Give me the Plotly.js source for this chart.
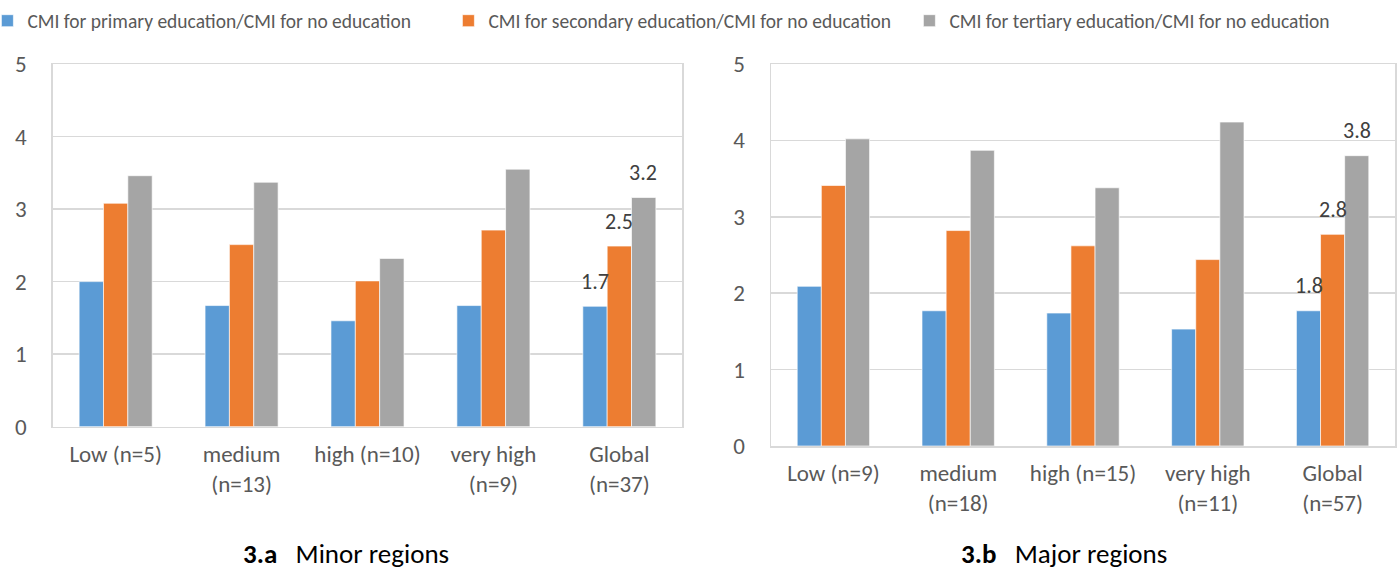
<!DOCTYPE html>
<html>
<head>
<meta charset="utf-8">
<script src="https://cdn.plot.ly/plotly-3.0.1.min.js"></script>
<style>html,body{margin:0;padding:0;background:#fff;}#chart{width:1400px;height:569px;}</style>
</head>
<body>
<div id="chart"></div>
<script>
// ---- data ----
const seriesNames = [
  "CMI for primary education/CMI for no education",
  "CMI for secondary education/CMI for no education",
  "CMI for tertiary education/CMI for no education"
];
const minorCategories = ["Low (n=5)", "medium<br>(n=13)", "high (n=10)", "very high<br>(n=9)", "Global<br>(n=37)"];
const minorPrimary   = [2.00, 1.67, 1.46, 1.67, 1.66];
const minorSecondary = [3.08, 2.51, 2.01, 2.71, 2.49];
const minorTertiary  = [3.46, 3.37, 2.32, 3.55, 3.16];

const majorCategories = ["Low (n=9)", "medium<br>(n=18)", "high (n=15)", "very high<br>(n=11)", "Global<br>(n=57)"];
const majorPrimary   = [2.09, 1.77, 1.74, 1.53, 1.77];
const majorSecondary = [3.41, 2.82, 2.62, 2.44, 2.77];
const majorTertiary  = [4.02, 3.87, 3.38, 4.24, 3.80];

const panelTitles = ["<b>3.a</b>\u00a0\u00a0\u00a0Minor regions", "<b>3.b</b>\u00a0\u00a0\u00a0Major regions"];
const labelledCategoryIndex = 4; // Global

// ---- style ----
const colors = ["#5B9BD5", "#ED7D31", "#A5A5A5"];
const FONT = "Carlito, Lato, 'Liberation Sans', sans-serif";
const W = 1400, H = 569, TOP = 45;
const py = p => (H - p) / (H - TOP);   // pixel row -> paper y

const panels = [
  {cats: minorCategories, vals: [minorPrimary, minorSecondary, minorTertiary], xa: "x", ya: "y"},
  {cats: majorCategories, vals: [majorPrimary, majorSecondary, majorTertiary], xa: "x2", ya: "y2"}
];

const traces = [];
const annotations = [];
panels.forEach((p, pi) => {
  p.vals.forEach((v, si) => {
    traces.push({
      type: "bar",
      name: seriesNames[si],
      x: p.cats, y: v,
      xaxis: p.xa, yaxis: p.ya,
      marker: {color: colors[si], line: {color: "rgba(255,255,255,0.8)", width: 0.8}},
      showlegend: pi === 0,
      legendgroup: "s" + si,
      hoverinfo: "x+y+name"
    });
    annotations.push({
      xref: p.xa, yref: p.ya,
      x: p.cats[labelledCategoryIndex], y: v[labelledCategoryIndex],
      text: v[labelledCategoryIndex].toFixed(1),
      showarrow: false, xanchor: "center", yanchor: "middle",
      xshift: (si - 1) * 24, yshift: 25,
      font: {family: FONT, size: 22, color: "#404040"}
    });
  });
});

annotations.push({xref: "paper", yref: "paper", x: 346/W, y: py(553), text: panelTitles[0],
  showarrow: false, xanchor: "center", yanchor: "middle", font: {family: FONT, size: 27, color: "#000"}});
annotations.push({xref: "paper", yref: "paper", x: 1064/W, y: py(553), text: panelTitles[1],
  showarrow: false, xanchor: "center", yanchor: "middle", font: {family: FONT, size: 27, color: "#000"}});

function xAxis(domain, anchor) {
  return {
    domain: domain, anchor: anchor, type: "category",
    showline: true, mirror: true, linecolor: "#D9D9D9", linewidth: 1.5,
    showgrid: false, zeroline: false,
    ticks: "outside", ticklen: 6, tickcolor: "rgba(0,0,0,0)",
    tickfont: {family: FONT, size: 23, color: "#595959"},
    fixedrange: true
  };
}
function yAxis(domain, anchor) {
  return {
    domain: domain, anchor: anchor, range: [0, 5], dtick: 1, tick0: 0,
    showline: true, mirror: true, linecolor: "#D9D9D9", linewidth: 1.5,
    showgrid: true, gridcolor: "#D9D9D9", gridwidth: 1.5, zeroline: false,
    ticks: "outside", ticklen: 20, tickcolor: "rgba(0,0,0,0)",
    tickfont: {family: FONT, size: 23, color: "#595959"},
    fixedrange: true
  };
}

const layout = {
  width: W, height: H,
  margin: {l: 0, r: 0, t: TOP, b: 0, autoexpand: false},
  paper_bgcolor: "#fff", plot_bgcolor: "#fff",
  barmode: "group", bargap: 0.42, bargroupgap: 0,
  font: {family: FONT, color: "#595959"},
  xaxis: xAxis([52.7/W, 682.3/W], "y"),
  yaxis: yAxis([py(426.7), py(64)], "x"),
  xaxis2: xAxis([771/W, 1395/W], "y2"),
  yaxis2: yAxis([py(446), py(64)], "x2"),
  legend: {
    orientation: "h", x: -0.009, xanchor: "left", y: py(21), yanchor: "middle",
    entrywidth: 416, entrywidthmode: "pixels", traceorder: "normal",
    font: {family: FONT, size: 19.5, color: "#595959"},
    bgcolor: "rgba(0,0,0,0)", borderwidth: 0
  },
  annotations: annotations
};

Plotly.newPlot("chart", traces, layout, {displayModeBar: false, staticPlot: true});
</script>
</body>
</html>
